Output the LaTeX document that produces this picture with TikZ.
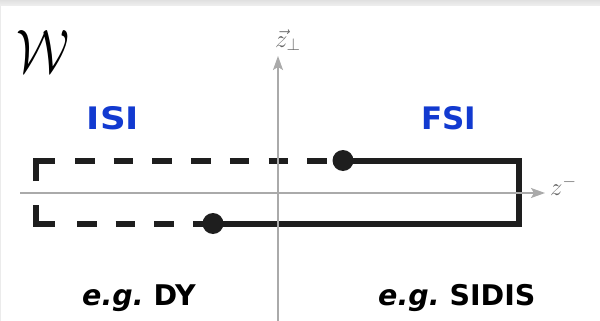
\documentclass[tikz,border=0pt]{standalone}
\usepackage{fontspec}
\newfontfamily\vfont{DejaVu Sans}
\usetikzlibrary{arrows.meta}
\definecolor{lblue}{RGB}{18,58,208}
\definecolor{axgray}{RGB}{170,170,170}
\definecolor{lblack}{RGB}{30,30,30}
\tikzset{
  pathline/.style={line width=6pt, draw=lblack, line cap=butt, line join=miter},
  dashline/.style={pathline, dash pattern=on 19.5pt off 19.2pt},
  dotnode/.style={circle, fill=lblack, inner sep=0pt, minimum size=21pt},
  axis/.style={draw=axgray, line width=1.4pt, -{Stealth[length=14pt,width=10pt,inset=3pt]}},
  tlabel/.style={font=\vfont\bfseries\fontsize{28.5}{30}\selectfont, inner sep=0pt},
  blabel/.style={font=\vfont\bfseries\fontsize{31}{33}\selectfont, inner sep=0pt, text=lblue},
  axlabel/.style={text=black!60, inner sep=0pt, font=\fontsize{23}{25}\selectfont}
}
\begin{document}
\begin{tikzpicture}[x=1pt,y=-1pt]
\useasboundingbox (0,0) rectangle (600,321);
\fill[white] (0,0) rectangle (600,321);
\shade[top color=black!12, bottom color=black!6] (0,0) rectangle (600,6);
\draw[black!8, line width=1pt] (0.5,6) -- (0.5,321);
% coordinates
\coordinate (ulA) at (36,181);
\coordinate (ulB) at (36,160.5);
\coordinate (ulC) at (55,160.5);
\coordinate (ud) at (75,160.5);
\coordinate (llA) at (36,205);
\coordinate (llB) at (36,223.5);
\coordinate (llC) at (55,223.5);
\coordinate (ld) at (77,223.5);
\coordinate (rt) at (519,160.5);
\coordinate (rb) at (519,223.5);
\node[dotnode] (A) at (343,160.5) {};
\node[dotnode] (B) at (213,223.5) {};
% contour
\draw[pathline] (ulA) -- (ulB) -- (ulC);
\draw[dashline] (ud) -- (A.center);
\draw[pathline] (A.center) -- (rt) -- (rb) -- (B.center);
\draw[dashline] (ld) -- (B.center);
\draw[pathline] (llA) -- (llB) -- (llC);
% axes
\coordinate (hx0) at (20,193);
\coordinate (hx1) at (545,193);
\coordinate (vy0) at (278,321);
\coordinate (vy1) at (278,56);
\draw[axis] (hx0) -- (hx1);
\draw[axis] (vy0) -- (vy1);
\node[axlabel, anchor=west] (zm) at (550,186) {$z^{-}$};
\node[axlabel, anchor=west] (zp) at (275,40) {$\vec{z}_{\perp}$};
% labels
\node[inner sep=0pt] (W) at (43,51) {\resizebox{53pt}{42pt}{$\mathcal{W}$}};
\node[blabel] (isi) at (113,118) {\scalebox{1.15}[1]{ISI}};
\node[blabel] (fsi) at (449,118) {FSI};
\node[tlabel, anchor=base west] (dy) at (82,305) {\itshape e.g.\ \upshape DY};
\node[tlabel, anchor=base west] (sidis) at (378,305) {\itshape e.g.\ \upshape SIDIS};
\end{tikzpicture}
\end{document}
